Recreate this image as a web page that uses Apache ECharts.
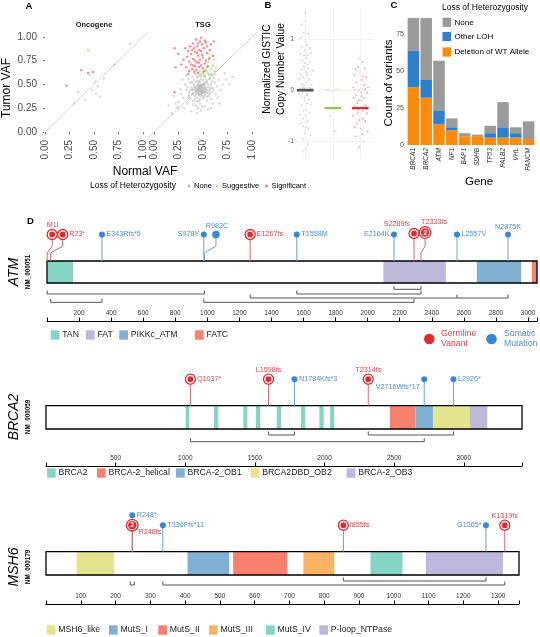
<!DOCTYPE html>
<html><head><meta charset="utf-8">
<script src="https://cdn.jsdelivr.net/npm/echarts@6/dist/echarts.min.js"></script>
<style>html,body{margin:0;padding:0;background:#fff}#c{width:540px;height:637px}</style>
</head><body><div id="c"></div>
<script>
const FONT = '"Liberation Sans", Arial, Helvetica, sans-serif';

// ---------------- Panel A data: [normal VAF, tumor VAF] ----------------
const facetNames = ['Oncogene', 'TSG'];
const lohLevels = ['None', 'Suggestive', 'Significant'];
const vafTicks = [0, 0.25, 0.5, 0.75, 1];
const oncoNone = [[0.87,0.93],[0.71,0.71],[0.46,0.60],[0.51,0.53],[0.54,0.48],[0.56,0.37],[0.34,0.42],[0.41,0.34],[0.48,0.44],[0.60,0.56],[0.30,0.30],[0.52,0.40]];
const oncoSuggestive = [[0.44,0.86]];
const oncoSignificant = [[0.22,0.49],[0.37,0.65],[0.44,0.62],[0.49,0.63]];
const tsgNone = [[0.47,0.45],[0.45,0.47],[0.50,0.44],[0.48,0.50],[0.43,0.42],[0.52,0.48],[0.46,0.40],[0.49,0.46],[0.44,0.49],[0.51,0.43],
[0.42,0.46],[0.53,0.51],[0.47,0.38],[0.40,0.44],[0.55,0.47],[0.46,0.52],[0.50,0.55],[0.44,0.36],[0.48,0.42],[0.41,0.50],
[0.57,0.45],[0.39,0.40],[0.52,0.39],[0.45,0.44],[0.49,0.41],[0.54,0.53],[0.43,0.53],[0.47,0.48],[0.51,0.50],[0.46,0.43],
[0.38,0.47],[0.58,0.50],[0.36,0.42],[0.60,0.46],[0.50,0.35],[0.44,0.32],[0.53,0.42],[0.42,0.38],[0.48,0.56],[0.55,0.41],
[0.35,0.37],[0.62,0.52],[0.33,0.44],[0.40,0.33],[0.57,0.56],[0.47,0.30],[0.52,0.58],[0.45,0.57],[0.41,0.55],[0.56,0.38],
[0.30,0.36],[0.64,0.48],[0.37,0.52],[0.59,0.42],[0.49,0.27],[0.43,0.28],[0.61,0.57],[0.34,0.30],[0.66,0.55],[0.39,0.58],
[0.28,0.40],[0.54,0.33],[0.46,0.60],[0.32,0.50],[0.63,0.40],[0.50,0.62],[0.37,0.35],[0.58,0.35],[0.25,0.32],[0.70,0.50],
[0.45,0.25],[0.52,0.27],[0.40,0.29],[0.68,0.44],[0.27,0.45],[0.56,0.60],[0.42,0.61],[0.35,0.56],[0.60,0.30],[0.48,0.23],
[0.22,0.30],[0.74,0.55],[0.31,0.25],[0.65,0.36],[0.20,0.38],[0.72,0.62],[0.55,0.24],[0.38,0.22],[0.18,0.20],[0.77,0.50],
[0.33,0.60],[0.62,0.61],[0.44,0.20],[0.29,0.55],[0.67,0.30],[0.53,0.64],[0.24,0.26],[0.58,0.25],[0.15,0.28],[0.80,0.58],
[0.46,0.46],[0.48,0.44],[0.50,0.47],[0.44,0.45],[0.47,0.49],[0.49,0.43],[0.45,0.41],[0.51,0.46],[0.43,0.47],[0.48,0.40],
[0.46,0.48],[0.49,0.49],[0.52,0.45],[0.44,0.43],[0.50,0.41],[0.47,0.43],[0.45,0.50],[0.53,0.46],[0.42,0.44],[0.51,0.52],
[0.48,0.47],[0.46,0.39],[0.54,0.44],[0.41,0.48],[0.50,0.50],[0.43,0.40],[0.55,0.50],[0.47,0.53],[0.39,0.45],[0.52,0.42],
[0.49,0.38],[0.45,0.54],[0.56,0.43],[0.40,0.41],[0.53,0.55],[0.47,0.35],[0.58,0.47],[0.37,0.44],[0.51,0.37],[0.44,0.58],
[0.36,0.39],[0.59,0.53],[0.42,0.34],[0.54,0.37],[0.48,0.59],[0.34,0.47],[0.61,0.44],[0.46,0.33],[0.57,0.40],[0.39,0.52]];
const tsgSuggestive = [[0.55,0.62],[0.58,0.66],[0.52,0.60],[0.60,0.70],[0.56,0.74],[0.50,0.63],[0.62,0.64],[0.54,0.68],[0.57,0.78],
[0.48,0.61],[0.59,0.60],[0.53,0.65],[0.61,0.76],[0.51,0.59],[0.63,0.68],[0.47,0.64],[0.56,0.82],[0.58,0.61]];
const tsgSignificant = [[0.45,0.80],[0.42,0.75],[0.48,0.85],[0.40,0.70],[0.50,0.78],[0.44,0.90],[0.38,0.82],[0.52,0.72],[0.46,0.68],[0.41,0.88],
[0.47,0.95],[0.36,0.74],[0.54,0.83],[0.43,0.65],[0.49,0.92],[0.39,0.66],[0.51,0.88],[0.44,0.73],[0.34,0.79],[0.56,0.77],
[0.42,0.84],[0.48,0.70],[0.37,0.90],[0.53,0.94],[0.45,0.62],[0.40,0.77],[0.50,0.67],[0.33,0.68],[0.57,0.86],[0.46,0.86],
[0.43,0.97],[0.35,0.85],[0.55,0.69],[0.41,0.63],[0.49,0.81],[0.30,0.76],[0.52,0.96],[0.38,0.71],[0.47,0.76],[0.44,0.83],
[0.58,0.92],[0.32,0.88],[0.40,0.93],[0.51,0.64],[0.36,0.64],[0.54,0.90],[0.46,0.73],[0.42,0.69],[0.28,0.71],[0.60,0.80],
[0.25,0.82],[0.48,0.99],[0.22,0.68],[0.45,0.93],[0.39,0.86],[0.53,0.75],[0.35,0.61],[0.61,0.95],[0.21,0.42],[0.21,0.88]];

// ---------------- Panel B data: [group (jittered), normalized GISTIC] ----------------
const cnGroups = ['None', 'Suggestive', 'Significant'];
const cnTicks = [-1, 0, 1];
const cnNone = [[0.72,0],[0.78,0.01],[0.83,-0.01],[0.88,0],[0.93,0.02],[0.97,0],[1.02,-0.02],[1.06,0.01],[1.11,0],[1.16,-0.01],
[1.21,0],[1.26,0.02],[0.75,-0.02],[0.86,0.03],[0.99,0.03],[1.09,-0.03],[1.19,0.03],[1.29,-0.01],[0.80,0],[1.24,-0.02],
[0.95,0.45],[1.05,0.62],[0.88,0.85],[1.12,1.10],[1.00,1.35],[0.92,0.25],[1.08,0.30],[0.85,-0.30],[1.15,-0.45],[1.02,-0.62],
[0.97,-0.85],[1.10,-1.05],[0.90,-1.20],[1.04,0.15],[0.96,-0.15],[1.18,0.55],[0.82,0.70],[1.07,-0.25],[0.93,-0.55],[1.01,0.95],
[0.99,1.50],[1.13,-0.75],[0.87,0.40],[1.03,-0.38],[0.94,0.10],[1.06,-0.10],[0.98,0.78],[1.14,0.20],[0.86,-0.12],[1.02,1.20],
[0.91,-0.95],[1.09,0.50],[0.97,-0.20],[1.05,0.35],[0.89,0.58],[1.11,-0.60],
[0.79,0.22],[1.22,-0.28],[0.84,1.02],[1.17,0.82],[0.92,-0.70],[1.08,0.68],[0.81,-0.48],[1.27,0.38],[0.95,1.12],[1.03,-1.15],
[0.88,0.12],[1.13,-0.18],[0.99,0.52],[0.76,-0.08],[1.23,0.10],[0.94,-0.40],[1.06,0.88],[0.90,-0.05],[1.16,0.05],[1.00,-0.50],
[0.85,0.30],[1.19,-0.88],[0.96,0.68],[1.04,-0.72],[0.87,1.28],[1.10,0.42],[0.93,0.05],[1.07,-0.08],[0.83,-0.65],[1.21,0.72]];
const cnSuggestive = [[1.72,0],[1.80,0.01],[1.88,0],[1.96,-0.01],[2.05,0],[2.13,0.01],[2.22,0],[2.30,-0.01],
[1.85,-0.35],[1.95,-0.34],[2.08,-0.36],[2.15,-0.35],[1.90,-0.50],[2.10,-0.80]];
const cnSignificant = [[2.75,0.05],[2.85,-0.10],[2.95,0.00],[3.05,-0.20],[3.15,0.10],[3.25,-0.05],[2.80,-0.30],[2.90,-0.45],[3.00,-0.35],[3.10,-0.40],
[3.20,-0.30],[2.78,0.30],[2.92,0.45],[3.08,0.55],[3.22,0.25],[2.88,-0.65],[3.02,-0.75],[3.18,-0.60],[2.83,-0.90],[3.12,-1.00],
[2.97,-1.10],[3.27,-0.80],[2.72,-0.50],[3.05,0.20],[2.95,-0.20],[3.15,-0.15],[2.86,0.15],[3.00,0.35],[3.10,-0.55],[2.90,-0.25],
[3.24,-0.45],[2.76,-0.15],[3.03,-0.05],[2.93,-0.38],[3.13,-0.33],[2.81,0.00],[3.19,0.02],[3.07,-0.85],[2.99,0.62],[3.28,0.05],
[2.74,-0.36],[2.87,-0.34],[3.21,-0.37],[3.26,-0.34],[2.84,0.40],[3.11,0.28],[2.96,-0.58],[3.06,-0.12],[2.79,-0.72],[3.17,0.42]];
const cnMedians = [0, -0.35, -0.35];

// ---------------- Panel C data ----------------
const cGenes = ['BRCA1','BRCA2','ATM','NF1','BAP1','SDHB','TP53','PALB2','VHL','FANCM'];
const cLohTypes = ['None', 'Other LOH', 'Deletion of WT Allele'];
const cDeletion = [39, 32, 14, 10, 6, 6, 5, 5, 5, 4];
const cOtherLOH = [25, 12, 9, 2, 0, 0, 3, 7, 3, 0];
const cNoneLOH  = [22, 42, 34, 6, 2, 1, 5, 17, 4, 12];
const cTicks = [0, 25, 50, 75];

// ---------------- Panel D data ----------------
const atmLength = 3056;
const atmDomainNames = ['TAN','FAT','PIKKc_ATM','FATC'];
const atmDomainStart = [1, 2098, 2681, 3024];
const atmDomainEnd = [162, 2487, 2957, 3056];
const atmMutNames = ['M1I','R23*','E343Rfs*5','S978Y','R982C','E1267fs','T1558M','E2164K','S2289fs','T2333fs','L2557V','N2875K'];
const atmMutPos = [1, 23, 343, 978, 982, 1267, 1558, 2164, 2289, 2333, 2557, 2875];
const atmMutType = ['G','G','S','S','S','G','S','S','G','G','S','S'];
const atmMutCount = [1,1,1,1,2,1,1,1,1,2,1,1];
const atmLinks = [[2164,2333],[1,982],[1558,2333],[1267,2557,2875],[23,343],[978,2289]];

const brca2Length = 3418;
const brca2DomainNames = ['BRCA2','BRCA2','BRCA2','BRCA2','BRCA2','BRCA2','BRCA2','BRCA2','BRCA-2_helical','BRCA-2_OB1','BRCA2DBD_OB2','BRCA-2_OB3'];
const brca2DomainStart = [1003, 1206, 1417, 1508, 1657, 1831, 1963, 2040, 2470, 2657, 2786, 3045];
const brca2DomainEnd   = [1029, 1237, 1446, 1539, 1688, 1862, 1994, 2070, 2655, 2781, 3045, 3169];
const brca2MutNames = ['Q1037*','L1598fs','N1784Kfs*3','T2314fs','V2716Wfs*17','L2926*'];
const brca2MutPos = [1037, 1598, 1784, 2314, 2716, 2926];
const brca2MutType = ['G','G','S','G','S','S'];
const brca2MutCount = [1,1,1,1,1,1];
const brca2Links = [[1598,1784],[2314,2926],[1037,2716]];

const msh6Length = 1360;
const msh6DomainNames = ['MSH6_like','MutS_I','MutS_II','MutS_III','MutS_IV','P-loop_NTPase'];
const msh6DomainStart = [88, 407, 538, 740, 933, 1092];
const msh6DomainEnd   = [196, 527, 694, 829, 1025, 1314];
const msh6MutNames = ['R248*','R248fs','T336Ffs*11','I855fs','G1265*','K1319fs'];
const msh6MutPos = [248, 248, 336, 855, 1265, 1319];
const msh6MutType = ['S','G','S','G','S','G'];
const msh6MutCount = [1,2,1,1,1,1];
const msh6Links = [[855,1265],[248,248],[336,1319]];

// ---------------- styles / layout ----------------
const RED = '#e22a30', RED_TXT = '#e4474c', BLUE = '#3a86d2', BLUE_TXT = '#4b8fd3';
const STEM_RED = '#e4666a', STEM_BLUE = '#69a2da';
const DOMAIN_COLORS = {TAN:'#86d5c3', FAT:'#bdb9da', PIKKc_ATM:'#80b1d3', FATC:'#f8806f',
  'BRCA2':'#86d5c3','BRCA-2_helical':'#f8806f','BRCA-2_OB1':'#80b1d3','BRCA2DBD_OB2':'#e4e48c','BRCA-2_OB3':'#bdb9da',
  MSH6_like:'#e4e48c', MutS_I:'#80b1d3', MutS_II:'#f8806f', MutS_III:'#fdb462', MutS_IV:'#86d5c3','P-loop_NTPase':'#bdb9da'};
const LOH_A_COLORS = ['#9e9e9e', '#a8d672', '#ef4b52'];
const LOH_A_OPAC = [0.38, 0.6, 0.6];
const CN_COLORS = ['#8a8a8a', '#9ccc5a', '#e8474c'];
const CN_MED_COLORS = ['#555555', '#8cc63f', '#e31a1c'];
const C_COLORS = ['#9a9a9a', '#2f7fca', '#fd8a0b'];

const geneLayouts = [
  {axisY:321, boxBottom:38, boxTop:60, rowOffsets:[6.3,11,15,19.3], bracketRow:[0,1,1,2,3,3],
   headDx:[5,12,0,0,11.5,0,0,0,0,4,0,0], headExtra:[0,0,0,0,0,0,0,0,1,2,0,0],
   labelSide:['top','right','right','left','top','right','right','left','top','top','right','top'],
   labelDx:[0.5,0,0,0,1,0,0,0,-17,9,0,0], labelDy:[0,0,0,0,0,0,0,0,0,0,0,0],
   legendX:[50.7,86,119.3,195], legendY:335, labelY:272},
  {axisY:466, boxBottom:37, boxTop:60.3, rowOffsets:[6,12.7], bracketRow:[0,0,1],
   headDx:[0,0,0,0,0,0], headExtra:[0,0,0,0,0,0],
   labelSide:['right','top','right','top','left','right'],
   labelDx:[0,0,0,0,0,0], labelDy:[0,0,0,0,8,0],
   legendX:[47,97,176,250.7,346.7], legendY:473, labelY:417},
  {axisY:604, boxBottom:29, boxTop:52.3, rowOffsets:[6,10], bracketRow:[0,1,1],
   headDx:[0,0,0,0,0,0], headExtra:[10,0,0,0,0,0],
   labelSide:['right','right','right','right','left','top'],
   labelDx:[0,-1,0,0,0,0], labelDy:[0,6.5,0,0,0,0],
   legendX:[46.7,109,158.3,209,266,319.3], legendY:630, labelY:567}
];
const genes = [
  {name:'ATM', nm:'NM_000051', length:atmLength, tick:200, domNames:atmDomainNames, domStart:atmDomainStart, domEnd:atmDomainEnd,
   mutNames:atmMutNames, mutPos:atmMutPos, mutType:atmMutType, mutCount:atmMutCount, links:atmLinks, L:geneLayouts[0], left:47, width:490},
  {name:'BRCA2', nm:'NM_000059', length:brca2Length, tick:500, domNames:brca2DomainNames, domStart:brca2DomainStart, domEnd:brca2DomainEnd,
   mutNames:brca2MutNames, mutPos:brca2MutPos, mutType:brca2MutType, mutCount:brca2MutCount, links:brca2Links, L:geneLayouts[1], left:46, width:476},
  {name:'MSH6', nm:'NM_000179', length:msh6Length, tick:100, domNames:msh6DomainNames, domStart:msh6DomainStart, domEnd:msh6DomainEnd,
   mutNames:msh6MutNames, mutPos:msh6MutPos, mutType:msh6MutType, mutCount:msh6MutCount, links:msh6Links, L:geneLayouts[2], left:46, width:473}
];
const TRACK_H = 106;
const HEAD_LIFT = 26.5;

// ---------------- helpers ----------------
function T(x, y, text, o) {
  o = o || {};
  return {type:'text', x:x, y:y, rotation:o.rot || 0, silent:true, z:100,
    style:{text:text, fill:o.color || '#000', fontSize:o.size || 10, fontFamily:FONT,
      fontWeight:o.weight || 'normal', fontStyle:o.style || 'normal',
      align:o.align || 'left', verticalAlign:o.va || 'middle', lineHeight:o.lh}};
}
const grid = (left, top, width, height) => ({left, top, width, height, containLabel:false, outerBoundsMode:'none'});

const AX = [-0.05, 1.05];
function vafAxis(gi, showLabels, rotate) {
  return {type:'value', gridIndex:gi, min:AX[0], max:AX[1],
    axisLine:{show:false}, splitLine:{show:false},
    axisTick:{show:showLabels, customValues:vafTicks, length:2, lineStyle:{color:'#444', width:0.8}},
    axisLabel:{show:showLabels, customValues:vafTicks, formatter:v => v.toFixed(2), rotate:rotate, fontSize:10,
      color:'#4d4d4d', margin:3, fontFamily:FONT}};
}

const grids = [grid(40,32,108,105), grid(149,32,108,105), grid(297,8,77,152), grid(407,12,128,133)];
const xAxes = [vafAxis(0,true,90), vafAxis(1,true,90),
  {type:'value', gridIndex:2, min:0.7, max:3.5, show:false},
  {type:'category', gridIndex:3, data:cGenes, axisLine:{show:false}, axisTick:{show:false},
   axisLabel:{interval:0, rotate:90, fontStyle:'italic', fontSize:6.5, color:'#333', margin:3, fontFamily:FONT}}];
const yAxes = [vafAxis(0,true,0), vafAxis(1,false,0),
  {type:'value', gridIndex:2, min:-1.36, max:1.6, axisLine:{show:false}, axisTick:{show:false}, splitLine:{show:false},
   axisLabel:{customValues:cnTicks, fontSize:6.5, color:'#666', margin:3, fontFamily:FONT}},
  {type:'value', gridIndex:3, min:0, max:90, axisLine:{show:false}, axisTick:{show:false}, splitLine:{show:false},
   axisLabel:{customValues:cTicks, fontSize:7, color:'#555', margin:3, fontFamily:FONT}}];

const series = [];
// Panel A
[[oncoNone, oncoSuggestive, oncoSignificant],[tsgNone, tsgSuggestive, tsgSignificant]].forEach((sets, fi) => {
  series.push({type:'line', xAxisIndex:fi, yAxisIndex:fi, data:[[AX[0],AX[0]],[AX[1],AX[1]]], symbol:'none', silent:true,
    lineStyle:{color:'#d3d3d3', width:1}, z:1});
  sets.forEach((d, li) => series.push({type:'scatter', name:lohLevels[li], xAxisIndex:fi, yAxisIndex:fi, data:d, symbolSize:2.6,
    silent:true, itemStyle:{color:LOH_A_COLORS[li], opacity:LOH_A_OPAC[li]}, z:2 + li}));
});
// Panel B
[cnNone, cnSuggestive, cnSignificant].forEach((d, i) => {
  const s = {type:'scatter', name:cnGroups[i], xAxisIndex:2, yAxisIndex:2, data:d, symbolSize:2, silent:true,
    itemStyle:{color:CN_COLORS[i], opacity:i === 0 ? 0.35 : 0.45}, z:3};
  if (i === 0) s.markLine = {silent:true, symbol:'none', label:{show:false}, lineStyle:{color:'#ececec', width:0.7, type:'solid'},
    data:cnTicks.map(v => ({yAxis:v})).concat([1,2,3].map(v => ({xAxis:v})))};
  series.push(s);
});
series.push({type:'custom', xAxisIndex:2, yAxisIndex:2, silent:true, z:5, data:cnMedians.map((m,i) => [i + 1, m]),
  renderItem:(p, api) => {
    const a = api.coord([api.value(0) - 0.3, api.value(1)]), b = api.coord([api.value(0) + 0.3, api.value(1)]);
    return {type:'line', shape:{x1:a[0], y1:a[1], x2:b[0], y2:b[1]}, style:{stroke:CN_MED_COLORS[p.dataIndex], lineWidth:p.dataIndex === 0 ? 2.6 : 2}};
  }});
// Panel C (stack bottom->top: deletion, other, none)
[[cDeletion, 2], [cOtherLOH, 1], [cNoneLOH, 0]].forEach(([d, ci]) => series.push({type:'bar', name:cLohTypes[ci], stack:'loh',
  xAxisIndex:3, yAxisIndex:3, data:d, barWidth:'90%', silent:true, itemStyle:{color:C_COLORS[ci]}}));

// Panel D
genes.forEach((g, gi) => {
  const L = g.L, xi = 4 + gi;
  grids.push(grid(g.left, L.axisY - TRACK_H, g.width, TRACK_H));
  xAxes.push({type:'value', gridIndex:xi, min:0, max:g.length, interval:g.tick, splitLine:{show:false},
    axisLine:{lineStyle:{color:'#000', width:1.2}},
    axisTick:{inside:true, length:3.5, lineStyle:{color:'#000', width:1}},
    axisLabel:{inside:true, margin:4.5, fontSize:6.5, color:'#333', fontFamily:FONT,
      formatter:v => (v > 0 && v % g.tick === 0) ? String(v) : ''}});
  yAxes.push({type:'value', gridIndex:xi, min:0, max:TRACK_H, show:false});
  const base = {type:'custom', xAxisIndex:xi, yAxisIndex:xi, silent:true, clip:false};
  series.push(Object.assign({}, base, {z:2, data:g.domStart.map((s,i) => [s, g.domEnd[i]]),
    renderItem:(p, api) => {
      const a = api.coord([api.value(0), L.boxTop]), b = api.coord([api.value(1), L.boxBottom]);
      return {type:'rect', shape:{x:a[0], y:a[1], width:b[0] - a[0], height:b[1] - a[1]}, style:{fill:DOMAIN_COLORS[g.domNames[p.dataIndex]]}};
    }}));
  series.push(Object.assign({}, base, {z:3, data:[[0, g.length]],
    renderItem:(p, api) => {
      const a = api.coord([api.value(0), L.boxTop]), b = api.coord([api.value(1), L.boxBottom]);
      return {type:'rect', shape:{x:a[0], y:a[1], width:b[0] - a[0], height:b[1] - a[1]}, style:{fill:'none', stroke:'#000', lineWidth:1.3}};
    }}));
  series.push(Object.assign({}, base, {z:3, data:g.links.map(l => [Math.min(...l), Math.max(...l)]),
    renderItem:(p, api) => {
      const i = p.dataIndex, link = g.links[i];
      const yv = L.boxBottom - L.rowOffsets[L.bracketRow[i]];
      const xs = link.map(v => api.coord([v, yv])[0]);
      const y = api.coord([0, yv])[1];
      let x1 = Math.min(...xs), x2 = Math.max(...xs);
      let tickXs = xs.slice();
      if (x2 - x1 < 3) { const c = (x1 + x2) / 2; x1 = c - 2; x2 = c + 2; tickXs = [x1, x2]; }
      const st = {stroke:'#555', lineWidth:1};
      const ch = [{type:'line', shape:{x1:x1, y1:y, x2:x2, y2:y}, style:st}];
      tickXs.forEach(x => ch.push({type:'line', shape:{x1:x, y1:y, x2:x, y2:y - 3.5}, style:st}));
      return {type:'group', children:ch};
    }}));
  series.push(Object.assign({}, base, {z:4, data:g.mutPos.map(v => [v, 0]),
    renderItem:(p, api) => {
      const i = p.dataIndex;
      const b = api.coord([api.value(0), L.boxTop]);
      const dx = L.headDx[i];
      const hx = b[0] + dx, hy = b[1] - HEAD_LIFT - L.headExtra[i];
      const germ = g.mutType[i] === 'G', cnt = g.mutCount[i];
      const r = germ ? (cnt > 1 ? 5.8 : 5) : (cnt > 1 ? 3.8 : 3);
      const pts = dx === 0 ? [[b[0], b[1]], [hx, hy]] : [[b[0], b[1]], [b[0], b[1] - 8], [hx, b[1] - 15], [hx, hy]];
      const ch = [{type:'polyline', shape:{points:pts}, style:{stroke:germ ? STEM_RED : STEM_BLUE, lineWidth:1, fill:'none'}}];
      if (germ) {
        ch.push({type:'circle', shape:{cx:hx, cy:hy, r:r}, style:{fill:'#fff', stroke:RED, lineWidth:1.3}});
        ch.push({type:'circle', shape:{cx:hx, cy:hy, r:r - (cnt > 1 ? 1.6 : 2.1)}, style:{fill:RED}});
        if (cnt > 1) ch.push({type:'text', x:hx, y:hy + 0.3, style:{text:String(cnt), fill:'#fff', fontSize:7, fontWeight:'bold', fontFamily:FONT, align:'center', verticalAlign:'middle'}});
      } else {
        ch.push({type:'circle', shape:{cx:hx, cy:hy, r:r}, style:{fill:BLUE}});
      }
      const side = L.labelSide[i];
      let lx, ly = hy + L.labelDy[i], al;
      if (side === 'top') { lx = hx; ly = hy - r - 4.5 + L.labelDy[i]; al = 'center'; }
      else if (side === 'right') { lx = hx + r + 1.5; al = 'left'; }
      else { lx = hx - r - 1.5; al = 'right'; }
      lx += L.labelDx[i];
      ch.push({type:'text', x:lx, y:ly, style:{text:g.mutNames[i], fill:germ ? RED_TXT : BLUE_TXT, fontSize:7.2, fontFamily:FONT, align:al, verticalAlign:'middle'}});
      return {type:'group', children:ch};
    }}));
});

// ---------------- text / legends ----------------
const graphic = [];
graphic.push(T(25.5, 6, 'A', {size:9.5, weight:'bold'}), T(264.5, 5.5, 'B', {size:9.5, weight:'bold'}),
  T(390.5, 5, 'C', {size:9.5, weight:'bold'}), T(27, 221, 'D', {size:9.5, weight:'bold'}));
// A
graphic.push(T(94, 25, facetNames[0], {size:7.5, weight:'bold', align:'center', color:'#1a1a1a'}),
  T(203, 25, facetNames[1], {size:7.5, weight:'bold', align:'center', color:'#1a1a1a'}),
  T(6.5, 88, 'Tumor VAF', {size:12, rot:Math.PI / 2, align:'center'}),
  T(145, 172, 'Normal VAF', {size:12, align:'center'}),
  T(90, 186, 'Loss of Heterozygosity', {size:8.5}));
const aLegX = [189, 217, 266.5];
lohLevels.forEach((n, i) => {
  graphic.push({type:'circle', silent:true, shape:{cx:aLegX[i], cy:186, r:1.4}, style:{fill:LOH_A_COLORS[i], opacity:0.8}});
  graphic.push(T(aLegX[i] + 5, 186, n, {size:7.5}));
});
// B
graphic.push(T(267.5, 69, 'Normalized GISTIC', {size:10.3, rot:Math.PI / 2, align:'center'}),
  T(281, 69, 'Copy Number Value', {size:10.3, rot:Math.PI / 2, align:'center'}));
// C
graphic.push(T(389, 83, 'Count of variants', {size:11.5, rot:Math.PI / 2, align:'center'}),
  T(479, 182, 'Gene', {size:11.5, align:'center'}),
  T(442, 8, 'Loss of Heterozygosity', {size:8.5}));
const cLegY = [22.3, 36.5, 52];
cLohTypes.forEach((n, i) => {
  graphic.push({type:'rect', silent:true, shape:{x:442.5, y:cLegY[i] - 4.6, width:8.5, height:9.2}, style:{fill:C_COLORS[i]}});
  graphic.push(T(454.5, cLegY[i], n, {size:8}));
});
// D
genes.forEach((g) => {
  const L = g.L;
  graphic.push(T(14.5, L.labelY, g.name, {size:14, style:'italic', rot:Math.PI / 2, align:'center'}),
    T(28.7, L.labelY, g.nm, {size:6.3, weight:'bold', rot:Math.PI / 2, align:'center'}));
  const uniq = g.domNames.filter((n, i, a) => a.indexOf(n) === i);
  uniq.forEach((n, i) => {
    graphic.push({type:'rect', silent:true, shape:{x:L.legendX[i], y:L.legendY - 4.7, width:8.7, height:9.4}, style:{fill:DOMAIN_COLORS[n]}});
    graphic.push(T(L.legendX[i] + 11.5, L.legendY, n, {size:8.7, color:'#222'}));
  });
});
graphic.push({type:'circle', silent:true, shape:{cx:429.3, cy:339, r:5.3}, style:{fill:RED}},
  T(441, 333.5, 'Germline', {size:8.7, color:RED_TXT}), T(441, 344, 'Variant', {size:8.7, color:RED_TXT}),
  {type:'circle', silent:true, shape:{cx:491.5, cy:339, r:5.3}, style:{fill:BLUE}},
  T(504, 333.5, 'Somatic', {size:8.7, color:BLUE_TXT}), T(504, 344, 'Mutation', {size:8.7, color:BLUE_TXT}));

const chart = echarts.init(document.getElementById('c'), null, {renderer:'canvas'});
chart.setOption({animation:false, backgroundColor:'#fff', textStyle:{fontFamily:FONT},
  grid:grids, xAxis:xAxes, yAxis:yAxes, series:series, graphic:graphic});
</script></body></html>
